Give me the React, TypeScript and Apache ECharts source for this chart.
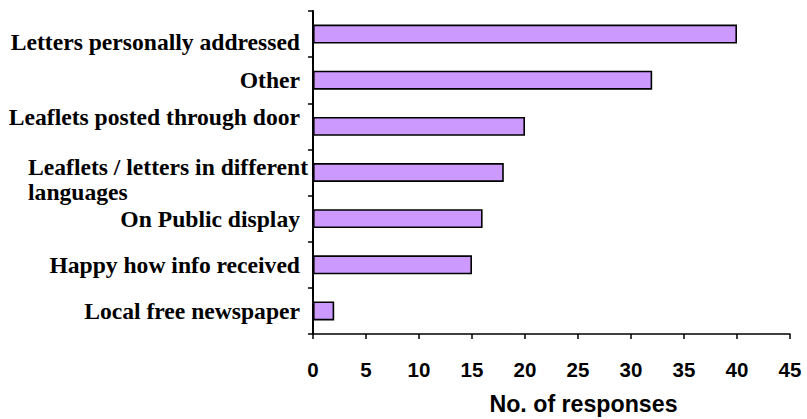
import React, { useEffect, useRef } from "react";
import * as echarts from "echarts";

// Survey results: how respondents receive information
const categories: string[] = [
  "Letters personally addressed",
  "Other",
  "Leaflets posted through door",
  "Leaflets / letters in different\nlanguages",
  "On Public display",
  "Happy how info received",
  "Local free newspaper",
];
const responses: number[] = [40, 32, 20, 18, 16, 15, 2];

const xMin = 0;
const xMax = 45;
const xStep = 5;
const xTitle = "No. of responses";

const serif = "'Liberation Serif', 'Times New Roman', serif";
const sans = "'Liberation Sans', Arial, sans-serif";

const labelBase = {
  fontFamily: serif,
  fontWeight: "bold" as const,
  fontSize: 23.6,
  color: "#000",
  lineHeight: 25,
};

export default function App() {
  const ref = useRef<HTMLDivElement>(null);

  useEffect(() => {
    if (!ref.current) return;
    const chart = echarts.init(ref.current, undefined, { renderer: "svg" });
    chart.setOption({
      animation: false,
      backgroundColor: "#fff",
      grid: {
        left: 313,
        right: 17,
        top: 11,
        bottom: 85,
        containLabel: false,
        outerBoundsMode: "none",
      },
      xAxis: {
        type: "value",
        min: xMin,
        max: xMax,
        interval: xStep,
        name: xTitle,
        nameLocation: "middle",
        nameGap: 58,
        nameTextStyle: {
          fontFamily: sans,
          fontWeight: "bold",
          fontSize: 23.2,
          color: "#000",
          padding: [0, 0, 0, 64],
        },
        axisLine: { show: true, lineStyle: { color: "#000", width: 1.5 } },
        axisTick: { show: true, length: 5, lineStyle: { color: "#000", width: 1.5 } },
        axisLabel: {
          margin: 25,
          fontFamily: sans,
          fontWeight: "bold",
          fontSize: 20.5,
          color: "#000",
        },
        splitLine: { show: false },
      },
      yAxis: {
        type: "category",
        inverse: true,
        data: categories,
        axisLine: { show: true, lineStyle: { color: "#000", width: 2 } },
        axisTick: { show: true, length: 5, lineStyle: { color: "#000", width: 1.5 } },
        axisLabel: {
          interval: 0,
          margin: 5,
          ...labelBase,
          formatter: (value: string, index: number) => {
            if (value.indexOf("\n") >= 0) {
              return value
                .split("\n")
                .map((s) => `{m|${s}}`)
                .join("\n");
            }
            const key = index === 0 ? "down" : index === 2 ? "up" : "n";
            return `{${key}|${value}}`;
          },
          rich: {
            n: { ...labelBase, padding: [0, 8, 0, 0] },
            down: { ...labelBase, padding: [16, 8, 0, 0] },
            up: { ...labelBase, padding: [0, 8, 18, 0] },
            m: { ...labelBase, align: "left", padding: [14, 0, 0, 0] },
          },
        },
        splitLine: { show: false },
      },
      series: [
        {
          type: "bar",
          data: responses,
          barWidth: "41%",
          itemStyle: {
            color: "#CC99FF",
            borderColor: "#000",
            borderWidth: 1.6,
          },
        },
      ],
    });
    return () => chart.dispose();
  }, []);

  return (
    <div
      ref={ref}
      style={{ position: "fixed", left: 0, top: 0, width: 807, height: 419, background: "#fff" }}
    />
  );
}
